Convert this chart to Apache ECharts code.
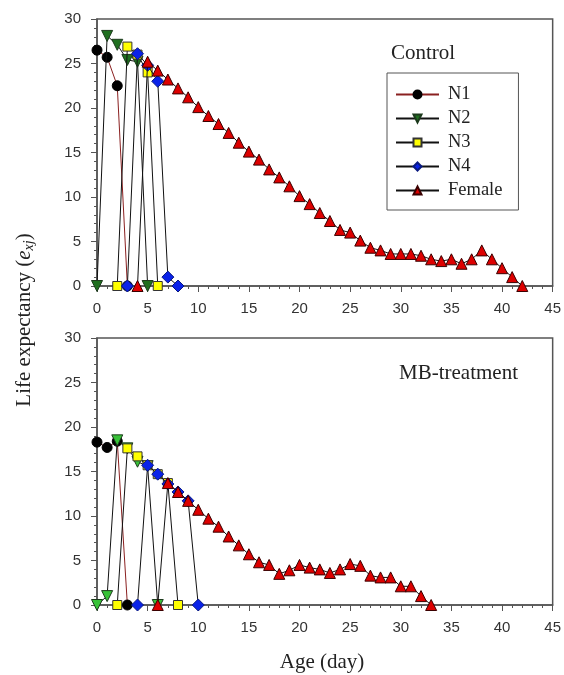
<!DOCTYPE html>
<html>
<head>
<meta charset="utf-8">
<script src="https://cdn.jsdelivr.net/npm/echarts@6/dist/echarts.min.js"></script>
<style>
  html, body { margin: 0; padding: 0; background: #fff; }
  #chart { width: 564px; height: 675px; }
</style>
</head>
<body>
<div id="chart"></div>
<script>
// Age-stage life expectancy (e_xj), days since egg
// Control
const ctrlN1Start = 0;
const ctrlN1 = [26.5, 25.7, 22.5, 0];
const ctrlN2Start = 0;
const ctrlN2 = [0, 28.1, 27.1, 25.4, 25.2, 0];
const ctrlN3Start = 2;
const ctrlN3 = [0, 26.9, 26.0, 24.0, 0];
const ctrlN4Start = 3;
const ctrlN4 = [0, 26.1, 24.8, 23.0, 1.0, 0];
const ctrlFemaleStart = 4;
const ctrlFemale = [0, 25.2, 24.2, 23.2, 22.2, 21.2, 20.1, 19.1, 18.2, 17.2, 16.1, 15.1, 14.2,
  13.1, 12.2, 11.2, 10.1, 9.2, 8.2, 7.3, 6.3, 6.0, 5.1, 4.3, 4.0, 3.6, 3.6, 3.6, 3.4, 3.0, 2.8,
  3.0, 2.5, 3.0, 4.0, 3.0, 2.0, 1.0, 0];

// MB-treatment
const mbN1Start = 0;
const mbN1 = [18.3, 17.7, 18.4, 0];
const mbN2Start = 0;
const mbN2 = [0, 1.0, 18.5, 17.6, 16.1, 15.6, 0];
const mbN3Start = 2;
const mbN3 = [0, 17.6, 16.7, 15.7, 14.7, 13.7, 0];
const mbN4Start = 4;
const mbN4 = [0, 15.7, 14.7, 13.6, 12.7, 11.7, 0];
const mbFemaleStart = 6;
const mbFemale = [0, 13.7, 12.7, 11.7, 10.7, 9.7, 8.8, 7.7, 6.7, 5.7, 4.8, 4.5, 3.5, 3.9, 4.5,
  4.2, 4.0, 3.6, 4.0, 4.6, 4.4, 3.3, 3.1, 3.1, 2.1, 2.1, 1.0, 0];

const stageNames = ['N1', 'N2', 'N3', 'N4', 'Female'];
const xTicks = { min: 0, max: 45, step: 5 };
const yTicks = { min: 0, max: 30, step: 5 };

function toPoints(start, values) {
  return values.map((v, i) => [start + i, v]);
}

const SANS = '"Liberation Sans", Arial, sans-serif';
const SERIF = '"Liberation Serif", "Times New Roman", serif';

function stageStyle(name, panel) {
  const base = { type: 'line', smooth: false };
  switch (name) {
    case 'N1':
      return Object.assign(base, { symbol: 'circle', symbolSize: 10,
        itemStyle: { color: '#000', borderColor: '#000', borderWidth: 1 },
        lineStyle: { color: '#8a2020', width: 1 }, z: 2 });
    case 'N2':
      return Object.assign(base, { symbol: 'triangle', symbolSize: 11, symbolRotate: 180,
        itemStyle: { color: panel === 0 ? '#1f6f1f' : '#38c238', borderColor: '#1c3a1c', borderWidth: 1 },
        lineStyle: { color: '#111', width: 1 }, z: 3 });
    case 'N3':
      return Object.assign(base, { symbol: 'rect', symbolSize: 9,
        itemStyle: { color: '#ffff00', borderColor: '#333', borderWidth: 1 },
        lineStyle: { color: '#111', width: 1 }, z: 4 });
    case 'N4':
      return Object.assign(base, { symbol: 'diamond', symbolSize: 12,
        itemStyle: { color: '#0a22e8', borderColor: '#0a1a80', borderWidth: 1 },
        lineStyle: { color: '#111', width: 1 }, z: 5 });
    default:
      return Object.assign(base, { symbol: 'triangle', symbolSize: 11,
        itemStyle: { color: '#dd0000', borderColor: '#3a0000', borderWidth: 1 },
        lineStyle: { color: '#111', width: 1 }, z: 6 });
  }
}

const panels = [
  { starts: [ctrlN1Start, ctrlN2Start, ctrlN3Start, ctrlN4Start, ctrlFemaleStart],
    values: [ctrlN1, ctrlN2, ctrlN3, ctrlN4, ctrlFemale] },
  { starts: [mbN1Start, mbN2Start, mbN3Start, mbN4Start, mbFemaleStart],
    values: [mbN1, mbN2, mbN3, mbN4, mbFemale] }
];

const series = [];
panels.forEach((p, pi) => {
  stageNames.forEach((name, si) => {
    const s = stageStyle(name, pi);
    s.name = name;
    s.xAxisIndex = pi;
    s.yAxisIndex = pi;
    s.data = toPoints(p.starts[si], p.values[si]);
    s.animation = false;
    series.push(s);
  });
});

function xAxis(gi) {
  return {
    type: 'value', gridIndex: gi, min: xTicks.min, max: xTicks.max, interval: xTicks.step,
    axisLine: { show: true, onZero: false, lineStyle: { color: '#555', width: 1.5 } },
    axisTick: { show: true, length: 6, lineStyle: { color: '#555' } },
    minorTick: { show: true, splitNumber: 5, length: 3, lineStyle: { color: '#555' } },
    splitLine: { show: false },
    axisLabel: { fontSize: 15, color: '#333', fontFamily: SANS, margin: 15 }
  };
}
function yAxis(gi) {
  return {
    type: 'value', gridIndex: gi, min: yTicks.min, max: yTicks.max, interval: yTicks.step,
    axisLine: { show: true, onZero: false, lineStyle: { color: '#555', width: 1.5 } },
    axisTick: { show: true, length: 6, lineStyle: { color: '#555' } },
    minorTick: { show: true, splitNumber: 5, length: 3, lineStyle: { color: '#555' } },
    splitLine: { show: false },
    axisLabel: { fontSize: 15, color: '#333', fontFamily: SANS, margin: 16 }
  };
}

const chart = echarts.init(document.getElementById('chart'), null, { renderer: 'canvas' });
chart.setOption({
  backgroundColor: '#fff',
  animation: false,
  grid: [
    { left: 97, top: 19, width: 458, height: 267, show: true, borderColor: '#555', borderWidth: 1.5, backgroundColor: 'transparent' },
    { left: 97, top: 338, width: 458, height: 267, show: true, borderColor: '#555', borderWidth: 1.5, backgroundColor: 'transparent' }
  ],
  xAxis: [xAxis(0), xAxis(1)],
  yAxis: [yAxis(0), yAxis(1)],
  legend: {
    data: stageNames,
    orient: 'vertical',
    left: 387, top: 73,
    width: 131,
    padding: [12, 16, 10, 8],
    itemWidth: 43, itemHeight: 10, itemGap: 5,
    borderColor: '#555', borderWidth: 1,
    textStyle: { fontFamily: SERIF, fontSize: 18.5, color: '#222', padding: [0, 0, 0, 4] },
    selectedMode: false
  },
  graphic: [
    { type: 'text', left: 391, top: 43,
      style: { text: 'Control', font: '21px ' + SERIF, fill: '#222' } },
    { type: 'text', left: 399, top: 363,
      style: { text: 'MB-treatment', font: '21px ' + SERIF, fill: '#222' } },
    { type: 'text', x: 322, y: 662,
      style: { text: 'Age (day)', font: '21px ' + SERIF, fill: '#222', align: 'center', verticalAlign: 'middle' } },
    { type: 'text', x: 24, y: 320, rotation: Math.PI / 2,
      style: {
        text: '{n|Life expectancy (}{e|e}{s|xj}{n|)}',
        align: 'center', verticalAlign: 'middle', fill: '#222',
        rich: {
          n: { fontFamily: SERIF, fontSize: 21, fill: '#222' },
          e: { fontFamily: SERIF, fontSize: 21, fontStyle: 'italic', fill: '#222' },
          s: { fontFamily: SERIF, fontSize: 14, fontStyle: 'italic', fill: '#222', padding: [10, 0, 0, 0] }
        }
      } }
  ],
  series: series
});
</script>
</body>
</html>
